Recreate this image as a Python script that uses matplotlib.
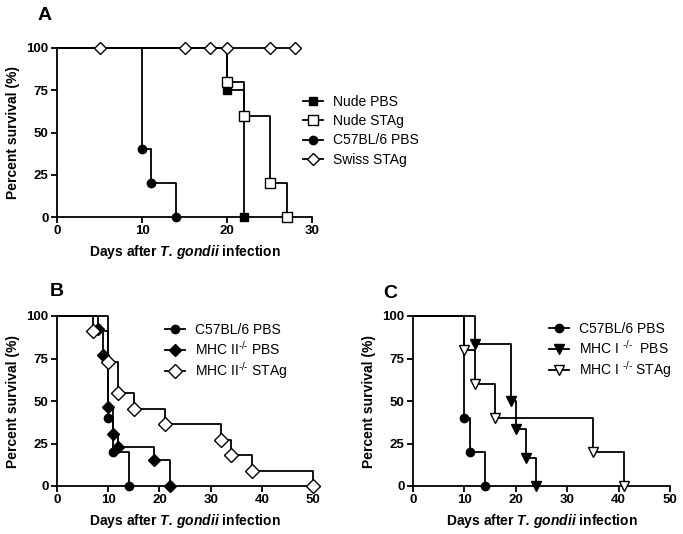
import matplotlib
matplotlib.use("Agg")
import matplotlib.pyplot as plt

plt.rcParams['font.family'] = ['Liberation Sans', 'DejaVu Sans']
plt.rcParams['mathtext.fontset'] = 'custom'
plt.rcParams['mathtext.rm'] = 'Liberation Sans'
plt.rcParams['mathtext.it'] = 'Liberation Sans:italic'
plt.rcParams['mathtext.bf'] = 'Liberation Sans:bold'
plt.rcParams['mathtext.bfit'] = 'Liberation Sans:italic:bold'

# Panel A data (days, percent survival)
a_nude_pbs_t = [0, 20, 22]
a_nude_pbs_s = [100, 75, 0]
a_nude_stag_t = [0, 20, 22, 25, 27]
a_nude_stag_s = [100, 80, 60, 20, 0]
a_c57_t = [0, 10, 11, 14]
a_c57_s = [100, 40, 20, 0]
a_swiss_t = [0, 5, 15, 18, 20, 25, 28]
a_swiss_s = [100, 100, 100, 100, 100, 100, 100]

# Panel B data
b_c57_t = [0, 10, 11, 14]
b_c57_s = [100, 40, 20, 0]
b_mhc2_pbs_t = [0, 8, 9, 10, 11, 12, 19, 22]
b_mhc2_pbs_s = [100, 92.3, 76.9, 46.2, 30.8, 23.1, 15.4, 0]
b_mhc2_stag_t = [0, 7, 10, 12, 15, 21, 32, 34, 38, 50]
b_mhc2_stag_s = [100, 90.9, 72.7, 54.5, 45.5, 36.4, 27.3, 18.2, 9.1, 0]

# Panel C data
c_c57_t = [0, 10, 11, 14]
c_c57_s = [100, 40, 20, 0]
c_mhc1_pbs_t = [0, 12, 19, 20, 22, 24]
c_mhc1_pbs_s = [100, 83.3, 50, 33.3, 16.7, 0]
c_mhc1_stag_t = [0, 10, 12, 16, 35, 41]
c_mhc1_stag_s = [100, 80, 60, 40, 20, 0]

yticks = [0, 25, 50, 75, 100]
xlabel = r"Days after $\mathbfit{T.\,gondii}$ infection"
ylabel = "Percent survival (%)"

fig = plt.figure(figsize=(6.83, 5.34), dpi=100)
W, H = 683, 534


def make_axes(x0, x1, ytop, ybot):
    return fig.add_axes([x0 / W, (H - ybot) / H, (x1 - x0) / W, (ybot - ytop) / H])


def survival(ax, t, s, marker, filled, label, ms=6):
    ax.step(t, s, where='post', color='black', lw=1.3, clip_on=False)
    ax.plot(t[1:], s[1:], linestyle='none', marker=marker, ms=ms,
            mfc='black' if filled else 'white', mec='black', mew=1.0,
            clip_on=False, zorder=3)
    # legend handle
    ax.plot([], [], color='black', lw=1.3, marker=marker, ms=ms,
            mfc='black' if filled else 'white', mec='black', mew=1.0, label=label)


def style(ax, xmax, xticks):
    ax.set_xlim(0, xmax)
    ax.set_ylim(0, 100)
    ax.set_xticks(xticks)
    ax.set_yticks(yticks)
    for side in ['top', 'right']:
        ax.spines[side].set_visible(False)
    for side in ['left', 'bottom']:
        ax.spines[side].set_linewidth(1.3)
    ax.tick_params(direction='out', length=4, width=1.3, labelsize=9.5, pad=2)
    for lab in ax.get_xticklabels() + ax.get_yticklabels():
        lab.set_fontweight('bold')
    ax.set_xlabel(xlabel, fontsize=10, fontweight='bold', labelpad=4)
    ax.set_ylabel(ylabel, fontsize=10, fontweight='bold', labelpad=5)


def legend(ax, x, y, spacing):
    ax.legend(loc='upper left', bbox_to_anchor=(x / W, (H - y) / H),
              bbox_transform=fig.transFigure, frameon=False, fontsize=10,
              handlelength=1.45, handletextpad=0.7, labelspacing=spacing, borderpad=0)


# Panel A
axA = make_axes(57, 312, 48, 217)
survival(axA, a_nude_pbs_t, a_nude_pbs_s, 's', True, 'Nude PBS')
survival(axA, a_nude_stag_t, a_nude_stag_s, 's', False, 'Nude STAg', ms=6.5)
survival(axA, a_c57_t, a_c57_s, 'o', True, 'C57BL/6 PBS')
survival(axA, a_swiss_t, a_swiss_s, 'D', False, 'Swiss STAg', ms=6.5)
style(axA, 30, [0, 10, 20, 30])
legend(axA, 296, 88, 0.38)
fig.text(38 / W, (H - 15) / H, 'A', fontsize=14, fontweight='bold', va='center')

# Panel B
axB = make_axes(57, 313, 316, 486)
survival(axB, b_c57_t, b_c57_s, 'o', True, 'C57BL/6 PBS')
survival(axB, b_mhc2_pbs_t, b_mhc2_pbs_s, 'D', True, r'MHC II$^{\text{-/-}}$ PBS', ms=6.5)
survival(axB, b_mhc2_stag_t, b_mhc2_stag_s, 'D', False, r'MHC II$^{\text{-/-}}$ STAg', ms=7)
style(axB, 50, [0, 10, 20, 30, 40, 50])
legend(axB, 158, 316, 0.2)
fig.text(50 / W, (H - 292) / H, 'B', fontsize=14, fontweight='bold', va='center')

# Panel C
axC = make_axes(413, 670, 316, 486)
survival(axC, c_c57_t, c_c57_s, 'o', True, 'C57BL/6 PBS')
survival(axC, c_mhc1_pbs_t, c_mhc1_pbs_s, 'v', True, r'MHC I $^{\text{-/-}}$  PBS', ms=6.5)
survival(axC, c_mhc1_stag_t, c_mhc1_stag_s, 'v', False, r'MHC I $^{\text{-/-}}$ STAg', ms=7)
style(axC, 50, [0, 10, 20, 30, 40, 50])
legend(axC, 542, 315, 0.2)
fig.text(383 / W, (H - 294) / H, 'C', fontsize=14, fontweight='bold', va='center')

fig.savefig('out.png', dpi=100)
